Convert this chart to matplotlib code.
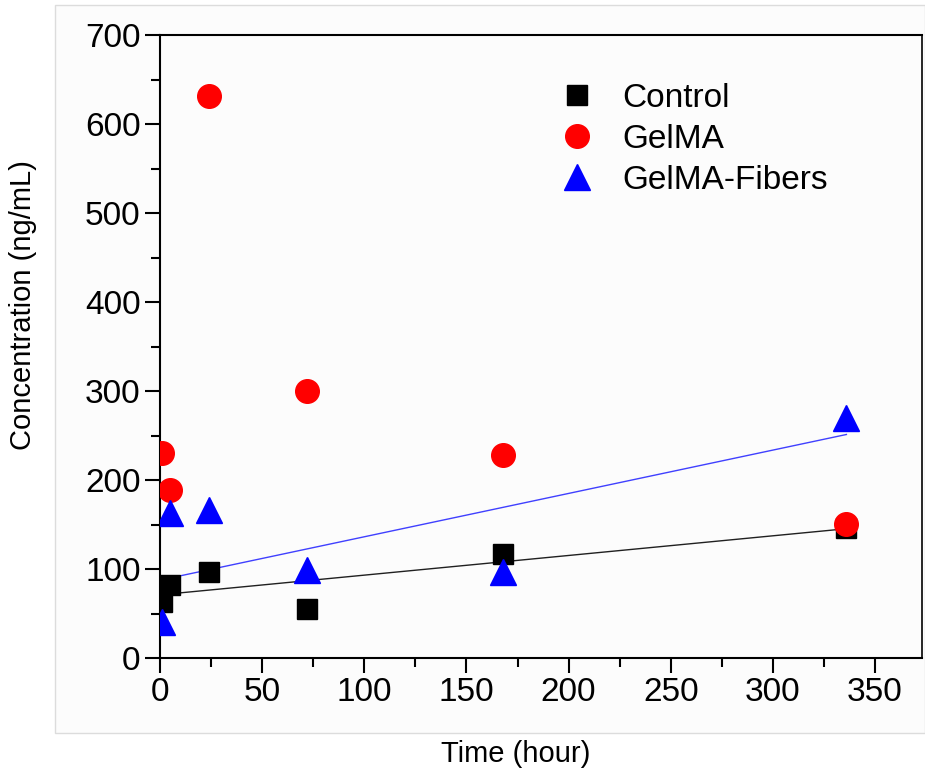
import numpy as np
import matplotlib
matplotlib.use("Agg")
from matplotlib import pyplot as plt
from matplotlib.patches import Rectangle
from matplotlib.ticker import MultipleLocator

plt.rcParams['font.family'] = ['Liberation Sans', 'DejaVu Sans']

# data
time_h = [1, 5, 24, 72, 168, 336]
control = [63, 82, 97, 55, 117, 146]
gelma = [230, 189, 631, 300, 228, 151]
fibers = [40, 163, 166, 99, 97, 270]

# linear fits as drawn (slope, intercept)
fit_control = (0.221, 71.0)
fit_fibers = (0.487, 87.5)
fit_range = [1, 336]

fig = plt.figure(figsize=(9.25, 7.77), dpi=100)
fig.patch.set_facecolor('white')
fig.add_artist(Rectangle((55 / 925, 44 / 777), 1 - 55 / 925, 728 / 777,
                         transform=fig.transFigure, facecolor='#fcfcfc',
                         edgecolor='#dcdcdc', lw=1, zorder=-10))

ax = fig.add_axes([160 / 925, 119 / 777, 762 / 925, 623 / 777])
ax.set_facecolor('#fcfcfc')

xf = np.array(fit_range)
ax.plot(xf, fit_control[0] * xf + fit_control[1], color='#202020', lw=1, zorder=2)
ax.plot(xf, fit_fibers[0] * xf + fit_fibers[1], color='#4040ff', lw=1, zorder=2)

ax.plot(time_h, control, 's', color='black', ms=15, ls='none', label='Control', zorder=3)
ax.plot(time_h, gelma, 'o', color='#ff0000', ms=17, ls='none', label='GelMA', zorder=4)
ax.plot(time_h, fibers, '^', color='#0000ff', ms=19, ls='none', label='GelMA-Fibers', zorder=5)

ax.set_xlim(0, 373)
ax.set_ylim(0, 700)
ax.xaxis.set_major_locator(MultipleLocator(50))
ax.xaxis.set_minor_locator(MultipleLocator(25))
ax.yaxis.set_major_locator(MultipleLocator(100))
ax.yaxis.set_minor_locator(MultipleLocator(50))
ax.tick_params(which='major', length=11, width=1.5, labelsize=24, pad=3)
ax.tick_params(which='minor', length=6.5, width=1.5)
ax.tick_params(axis='x', which='major', pad=3)
for s in ax.spines.values():
    s.set_linewidth(1.5)
ax.spines['right'].set_linewidth(1.2)

ax.set_xlabel('Time (hour)', fontsize=21)
ax.set_ylabel('Concentration (ng/mL)', fontsize=21)
ax.xaxis.set_label_coords(0.467, -0.131)
ax.yaxis.set_label_coords(-0.161, 0.567)

ax.legend(loc='upper left', bbox_to_anchor=(0.504, 0.95), frameon=False,
          fontsize=24, numpoints=1, handlelength=1.0, handletextpad=0.85,
          labelspacing=0.3, borderpad=0)

fig.savefig('out.png', dpi=100)
